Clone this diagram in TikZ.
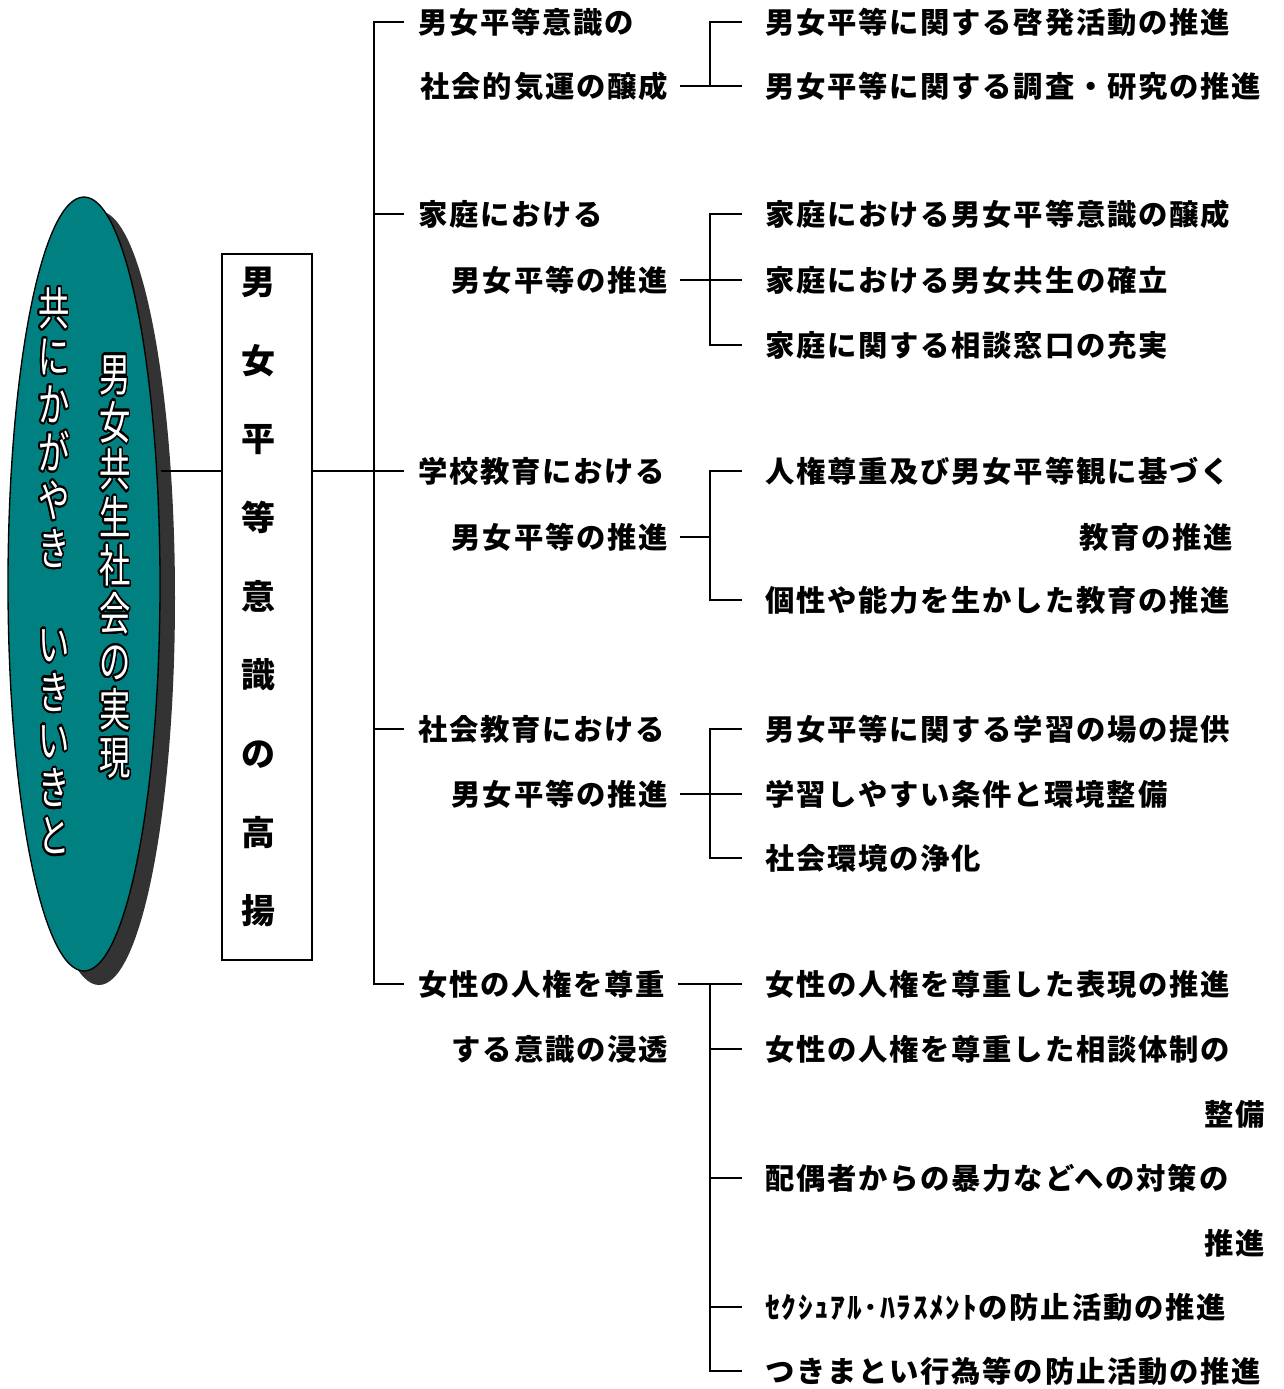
\documentclass[tikz,border=0pt]{standalone}
\usepackage{fontspec}
\usepackage{contour}
\usetikzlibrary{calc,shapes.geometric}
\newfontfamily\jp[LetterSpace=6]{Noto Sans CJK JP}
\newfontfamily\jpv{Noto Sans CJK JP}
\contourlength{1.1pt}
\contournumber{32}
\newcommand\oc[1]{\contour{black}{#1}}
\definecolor{teal0}{HTML}{008080}
\definecolor{shadow0}{HTML}{333333}
\tikzset{
  lab/.style={font=\jp\bfseries\fontsize{22}{26}\selectfont, inner sep=0pt},
  conn/.style={draw=black, line width=1pt},
  boxtxt/.style={font=\jpv\bfseries\fontsize{25.5}{59}\selectfont, align=center, inner sep=0pt},
  elltxt/.style={font=\jpv\fontsize{23.5}{24.8}\selectfont, align=center, inner sep=0pt, text=white}
}
\begin{document}
\begin{tikzpicture}[x=0.75pt,y=-0.75pt]
\useasboundingbox (0,0) rectangle (1284,1389);
% ellipse with shadow
\fill[shadow0] (99,598) ellipse [x radius=76, y radius=387];
\node[draw=black, line width=1pt, fill=teal0, ellipse, minimum width=114pt, minimum height=580.5pt, inner sep=0pt] (ell) at (84,584) {};
\begin{scope}[shift={(115,568)}, yscale=1.45]
\node[elltxt, transform shape] (t1) at (0,0) {\oc{男}\\\oc{女}\\\oc{共}\\\oc{生}\\\oc{社}\\\oc{会}\\\oc{の}\\\oc{実}\\\oc{現}};
\end{scope}
\begin{scope}[shift={(54,572)}, yscale=1.45]
\node[elltxt, transform shape] (t2) at (0,0) {\oc{共}\\\oc{に}\\\oc{か}\\\oc{が}\\\oc{や}\\\oc{き}\\　\\\oc{い}\\\oc{き}\\\oc{い}\\\oc{き}\\\oc{と}};
\end{scope}
% vertical box
\node[draw=black, line width=1pt, minimum width=67.5pt, minimum height=529.5pt, inner sep=0pt] (box) at (267,607) {};
\node[boxtxt] (boxt) at (258,597) {男\\女\\平\\等\\意\\識\\の\\高\\揚};
% level 2
\node[lab, anchor=west] (a1) at (418,22) {男女平等意識の};
\node[lab, anchor=east] (a2) at (668,86) {社会的気運の醸成};
\node[lab, anchor=west] (b1) at (418,214) {家庭における};
\node[lab, anchor=east] (b2) at (668,280) {男女平等の推進};
\node[lab, anchor=west] (c1) at (418,471) {学校教育における};
\node[lab, anchor=east] (c2) at (668,537) {男女平等の推進};
\node[lab, anchor=west] (d1) at (418,729) {社会教育における};
\node[lab, anchor=east] (d2) at (668,794) {男女平等の推進};
\node[lab, anchor=west] (e1) at (418,984) {女性の人権を尊重};
\node[lab, anchor=east] (e2) at (668,1049) {する意識の浸透};
% level 3
\node[lab, anchor=west] (a3) at (765,22) {男女平等に関する啓発活動の推進};
\node[lab, anchor=west] (a4) at (765,86) {男女平等に関する調査・研究の推進};
\node[lab, anchor=west] (b3) at (765,214) {家庭における男女平等意識の醸成};
\node[lab, anchor=west] (b4) at (765,280) {家庭における男女共生の確立};
\node[lab, anchor=west] (b5) at (765,345) {家庭に関する相談窓口の充実};
\node[lab, anchor=west] (c3) at (765,471) {人権尊重及び男女平等観に基づく};
\node[lab, anchor=east] (c4) at (1233,537) {教育の推進};
\node[lab, anchor=west] (c5) at (765,600) {個性や能力を生かした教育の推進};
\node[lab, anchor=west] (d3) at (765,729) {男女平等に関する学習の場の提供};
\node[lab, anchor=west] (d4) at (765,794) {学習しやすい条件と環境整備};
\node[lab, anchor=west] (d5) at (765,858) {社会環境の浄化};
\node[lab, anchor=west] (e3) at (765,984) {女性の人権を尊重した表現の推進};
\node[lab, anchor=west] (e4) at (765,1049) {女性の人権を尊重した相談体制の};
\node[lab, anchor=east] (e4b) at (1265,1114) {整備};
\node[lab, anchor=west] (e5) at (765,1178) {配偶者からの暴力などへの対策の};
\node[lab, anchor=east] (e5b) at (1265,1243) {推進};
\node[lab, anchor=west] (e6) at (765,1307) {ｾｸｼｭｱﾙ･ﾊﾗｽﾒﾝﾄの防止活動の推進};
\node[lab, anchor=west] (e7) at (765,1371) {つきまとい行為等の防止活動の推進};
% helper coordinates
\coordinate (trk) at (374,0);
\coordinate (vb) at (710,0);
% connectors: ellipse - box - trunk
\draw[conn] (ell.east |- c1.west) -- (box.west |- c1.west);
\draw[conn] (box.east |- c1.west) -- ($(c1.west)+(-14,0)$);
\draw[conn] ($(a1.west)+(-14,0)$) -- (a1.west -| trk) -- (e1.west -| trk) -- ($(e1.west)+(-14,0)$);
\draw[conn] ($(b1.west)+(-14,0)$) -- (b1.west -| trk);
\draw[conn] ($(d1.west)+(-14,0)$) -- (d1.west -| trk);
% group a
\draw[conn] ($(a2.east)+(12,0)$) -- ($(a4.west)+(-23,0)$);
\draw[conn] ($(a3.west)+(-23,0)$) -- (a3.west -| vb) -- (a4.west -| vb);
% group b
\draw[conn] ($(b2.east)+(12,0)$) -- ($(b4.west)+(-23,0)$);
\draw[conn] ($(b3.west)+(-23,0)$) -- (b3.west -| vb) -- (b5.west -| vb) -- ($(b5.west)+(-23,0)$);
% group c
\draw[conn] ($(c2.east)+(12,0)$) -- (c2.east -| vb);
\draw[conn] ($(c3.west)+(-23,0)$) -- (c3.west -| vb) -- (c5.west -| vb) -- ($(c5.west)+(-23,0)$);
% group d
\draw[conn] ($(d2.east)+(12,0)$) -- ($(d4.west)+(-23,0)$);
\draw[conn] ($(d3.west)+(-23,0)$) -- (d3.west -| vb) -- (d5.west -| vb) -- ($(d5.west)+(-23,0)$);
% group e
\draw[conn] ($(e1.east)+(12,0)$) -- ($(e3.west)+(-23,0)$);
\draw[conn] (e3.west -| vb) -- (e7.west -| vb) -- ($(e7.west)+(-23,0)$);
\draw[conn] (e4.west -| vb) -- ($(e4.west)+(-23,0)$);
\draw[conn] (e5.west -| vb) -- ($(e5.west)+(-23,0)$);
\draw[conn] (e6.west -| vb) -- ($(e6.west)+(-23,0)$);
\end{tikzpicture}
\end{document}
